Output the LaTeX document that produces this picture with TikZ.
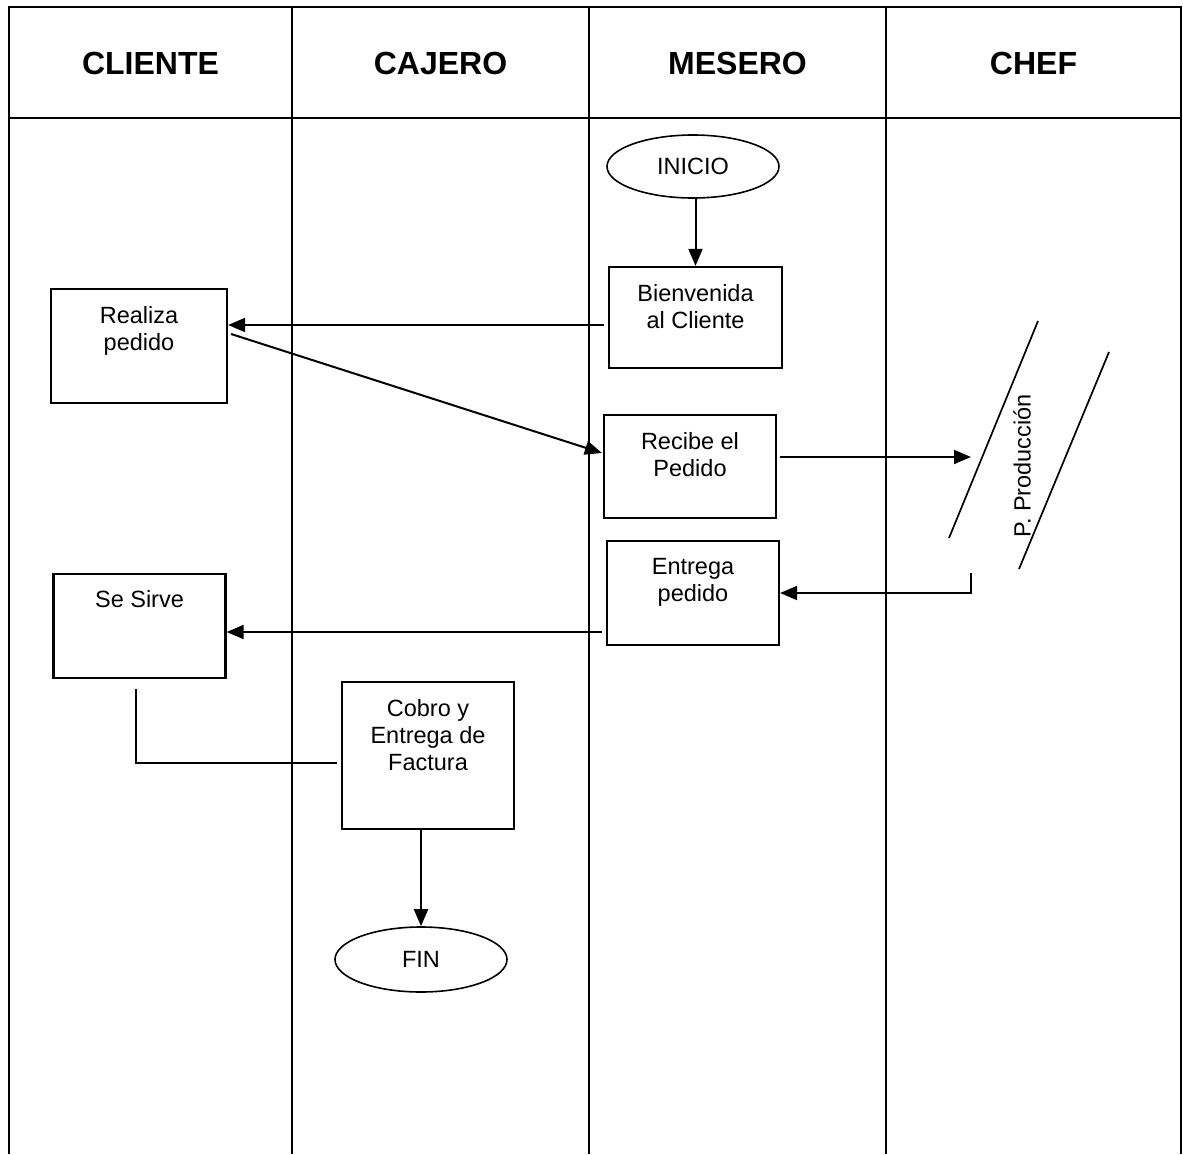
\documentclass[tikz,border=0pt]{standalone}
\usepackage{fontspec}
\setmainfont{Liberation Sans}
\usetikzlibrary{arrows.meta,calc,shapes.geometric}
\begin{document}
\begin{tikzpicture}[x=1pt,y=-1pt,
  grid/.style={line width=2.5pt},
  head/.style={font=\fontsize{32}{36}\selectfont\bfseries, inner sep=0pt},
  stepbox/.style={draw, line width=2.2pt, rectangle, inner sep=0pt},
  term/.style={draw, line width=1.6pt, ellipse, inner sep=0pt,
               font=\fontsize{23.5}{27}\selectfont},
  txt/.style={font=\fontsize{23.5}{27}\selectfont, align=center,
              inner sep=0pt, anchor=north},
  link/.style={line width=2pt},
  arr/.style={link, -{Triangle[length=17pt,width=14pt]}},
  slant/.style={line width=1.7pt},
]
\useasboundingbox (0,0) rectangle (1183,1154);

% swimlane table
\draw[grid] (9,1154) -- (9,7) -- (1181,7) -- (1181,1154);
\draw[grid] (9,118) -- (1181,118);
\foreach \x in {292,589,886} \draw[grid] (\x,7) -- (\x,1154);
\node[head] (hcli) at (150.5,63.5) {CLIENTE};
\node[head] (hcaj) at (440.5,63.5) {CAJERO};
\node[head] (hmes) at (737.5,63.5) {MESERO};
\node[head] (hchef) at (1033.5,63.5) {CHEF};

% terminals
\node[term, minimum width=172pt, minimum height=63pt] (inicio) at (693,166.5) {INICIO};
\node[term, minimum width=172pt, minimum height=65pt] (fin) at (421,959.5) {FIN};

% process boxes
\node[stepbox, minimum width=176pt, minimum height=114pt] (realiza) at (139,346) {};
\node[stepbox, minimum width=173pt, minimum height=101pt] (bienv)   at (695.5,317.5) {};
\node[stepbox, minimum width=172pt, minimum height=103pt] (recibe)  at (690,466.5) {};
\node[stepbox, minimum width=172pt, minimum height=104pt] (entrega) at (693,593) {};
\node[stepbox, minimum width=172pt, minimum height=104pt] (sesirve) at (139.5,626) {};
\node[stepbox, minimum width=172pt, minimum height=147pt] (cobro)   at (428,755.5) {};

\node[txt] (trealiza) at ($(realiza.north)+(0,18)$) {Realiza\\pedido};
\node[txt] (tbienv)   at ($(bienv.north)+(0,18)$) {Bienvenida\\al Cliente};
\node[txt] (trecibe)  at ($(recibe.north)+(0,18)$) {Recibe el\\Pedido};
\node[txt] (tentrega) at ($(entrega.north)+(0,18)$) {Entrega\\pedido};
\node[txt] (tsesirve) at ($(sesirve.north)+(0,17)$) {Se Sirve};
\node[txt] (tcobro)   at ($(cobro.north)+(0,18)$) {Cobro y\\Entrega de\\Factura};

% production order (slanted document)
\coordinate (pa1) at (1038,321);
\coordinate (pa2) at (949,538);
\coordinate (pb1) at (1109,352);
\coordinate (pb2) at (1019,569);
\draw[slant] (pa1) -- (pa2);
\draw[slant] (pb1) -- (pb2);
\node[rotate=90, inner sep=0pt, font=\fontsize{23.5}{27}\selectfont] (prod) at (1022,466) {P. Producción};
\coordinate (pin) at (971,457);
\coordinate (pout) at (971,573);

% connectors
\draw[arr] (inicio.south -| bienv.north) -- (bienv.north);
\coordinate (b1) at ($(bienv.west)+(-4,7.5)$);
\draw[arr] (b1) -- (b1 -| realiza.east);
\draw[arr] ($(realiza.east)+(3,-12)$) -- ($(recibe.west)+(-1,-13.5)$);
\coordinate (r1) at ($(recibe.east)+(3,-9.5)$);
\draw[arr] (r1) -- (pin);
\draw[arr] (pout) |- (entrega.east);
\coordinate (e1) at ($(entrega.west)+(-4,39)$);
\draw[arr] (e1) -- (e1 -| sesirve.east);
\draw[link] ($(sesirve.south)+(-3.5,10)$) |- ($(cobro.west)+(-4,7.5)$);
\draw[arr] (fin.north |- cobro.south) -- (fin.north);
\end{tikzpicture}
\end{document}
